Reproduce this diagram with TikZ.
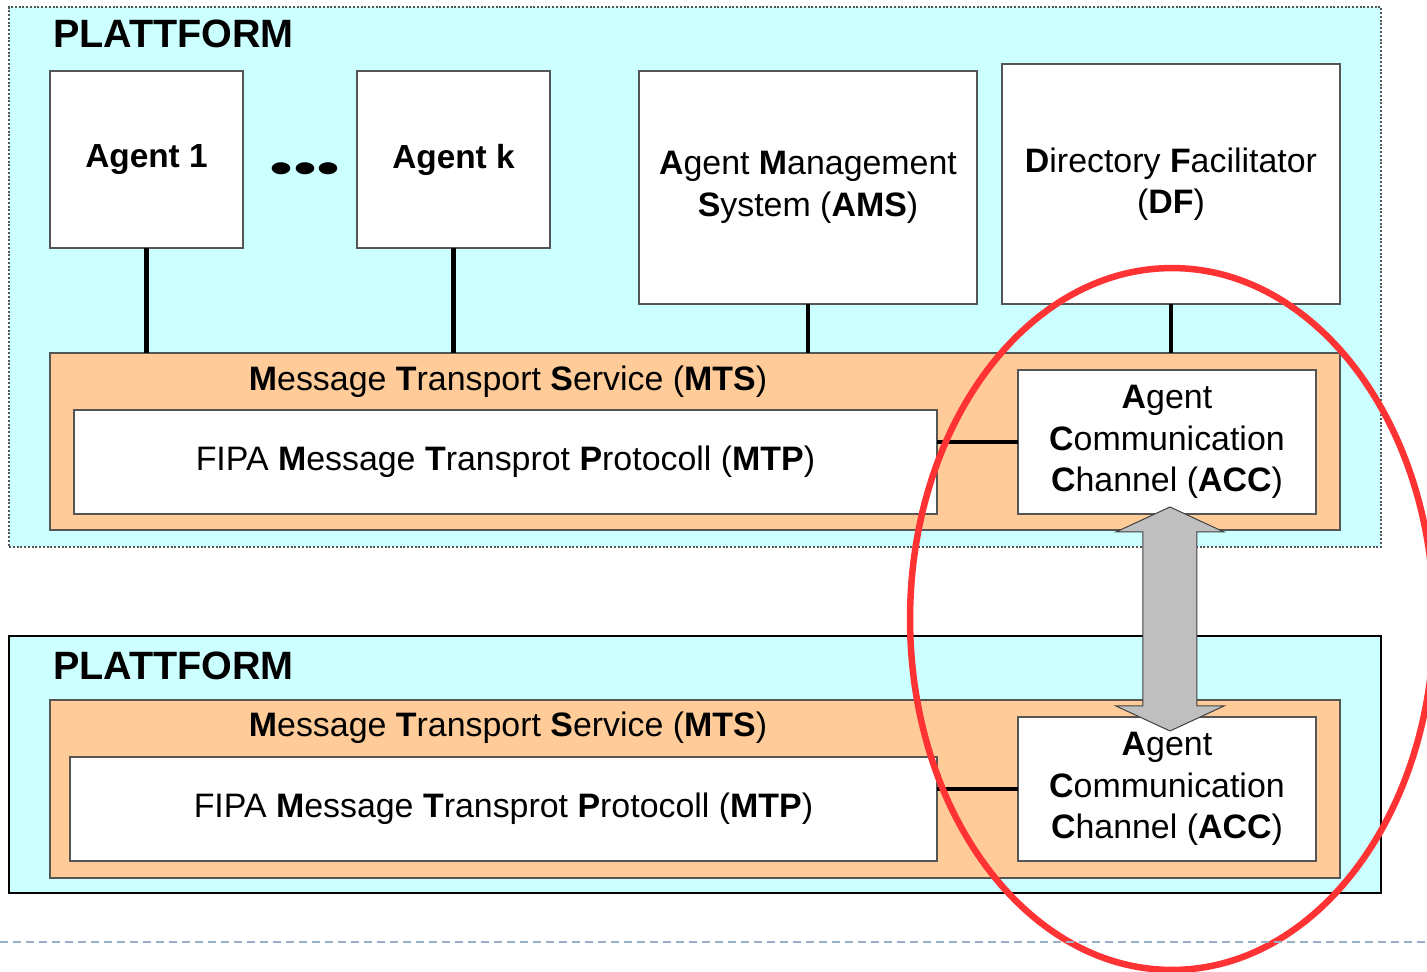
\documentclass[tikz,border=0pt]{standalone}
\usepackage{fontspec}
\setmainfont{Liberation Sans}
\usetikzlibrary{calc}
\definecolor{platcyan}{HTML}{CCFFFF}
\definecolor{mtsorange}{HTML}{FFCC99}
\definecolor{boxline}{HTML}{555555}
\definecolor{ringred}{HTML}{FF3333}
\definecolor{sepblue}{HTML}{9AB0C8}
\begin{document}
\begin{tikzpicture}
    [x=0.02cm,y=-0.02cm,
     every node/.style={inner sep=0pt,outer sep=0pt,font=\fontsize{19.3}{23.5}\selectfont},
     platbox/.style={rectangle,fill=platcyan,anchor=north west,line width=0.04cm},
     mtsbox/.style={rectangle,fill=mtsorange,draw=boxline,anchor=north west,line width=0.04cm},
     whitebox/.style={rectangle,fill=white,draw=boxline,anchor=north west,line width=0.04cm,align=center},
     platlabel/.style={anchor=base west,font=\fontsize{22.5}{27}\selectfont\bfseries},
     link/.style={line width=0.09cm,black},
     dblarrow/.style={fill=black!25,draw=black!75,line width=0.02cm},
     ring/.style={draw=ringred,line width=0.13cm}]
    \useasboundingbox (0,0) rectangle (1427,972);
    % upper platform
    \node [platbox,draw=boxline,densely dotted,minimum width=27.44cm,minimum height=10.8cm] (plat1) at (9,7) {};
    \node [platlabel] (plat1lbl) at (53,48) {PLATTFORM};
    \node [whitebox,minimum width=3.86cm,minimum height=3.54cm,font=\fontsize{19}{23}\selectfont\bfseries] (ag1) at (50,71) {Agent 1};
    \node [whitebox,minimum width=3.86cm,minimum height=3.54cm,font=\fontsize{19}{23}\selectfont\bfseries] (agk) at (357,71) {Agent k};
    \node [font=\fontsize{39}{39}\selectfont,yscale=0.65] (dots) at (305,173) {•••};
    \node [whitebox,minimum width=6.76cm,minimum height=4.66cm] (ams) at (639,71)
        {\textbf{A}gent \textbf{M}anagement\\\textbf{S}ystem (\textbf{AMS})};
    \node [whitebox,minimum width=6.76cm,minimum height=4.8cm] (df) at (1002,64)
        {\textbf{D}irectory \textbf{F}acilitator\\(\textbf{DF})};
    \node [mtsbox,minimum width=25.8cm,minimum height=3.54cm] (mts1) at (50,353) {};
    \node [anchor=base] (mts1lbl) at (508,391)
        {\textbf{M}essage \textbf{T}ransport \textbf{S}ervice (\textbf{MTS})};
    \node [whitebox,minimum width=17.26cm,minimum height=2.08cm] (mtp1) at (74,410)
        {FIPA \textbf{M}essage \textbf{T}ransprot \textbf{P}rotocoll (\textbf{MTP})};
    \node [whitebox,minimum width=5.96cm,minimum height=2.88cm] (acc1) at (1018,370)
        {\textbf{A}gent\\\textbf{C}ommunication\\\textbf{C}hannel (\textbf{ACC})};
    \draw [link] (ag1.south)--(ag1.south|-mts1.north);
    \draw [link] (agk.south)--(agk.south|-mts1.north);
    \draw [link] (ams.south)--(ams.south|-mts1.north);
    \draw [link] (df.south)--(df.south|-mts1.north);
    \draw [link] (acc1.west)--(acc1.west-|mtp1.east);
    % lower platform
    \node [platbox,draw=black,minimum width=27.44cm,minimum height=5.14cm] (plat2) at (9,636) {};
    \node [platlabel] (plat2lbl) at (53,680) {PLATTFORM};
    \node [mtsbox,minimum width=25.8cm,minimum height=3.56cm] (mts2) at (50,700) {};
    \node [anchor=base] (mts2lbl) at (508,737)
        {\textbf{M}essage \textbf{T}ransport \textbf{S}ervice (\textbf{MTS})};
    \node [whitebox,minimum width=17.34cm,minimum height=2.08cm] (mtp2) at (70,757)
        {FIPA \textbf{M}essage \textbf{T}ransprot \textbf{P}rotocoll (\textbf{MTP})};
    \node [whitebox,minimum width=5.96cm,minimum height=2.88cm] (acc2) at (1018,717)
        {\textbf{A}gent\\\textbf{C}ommunication\\\textbf{C}hannel (\textbf{ACC})};
    \draw [link] (acc2.west)--(acc2.west-|mtp2.east);
    % link between the two channels
    \coordinate (tipA) at ($(acc1.south)+(3,-7)$);
    \coordinate (tipB) at ($(acc2.north)+(3,14)$);
    \draw [dblarrow] (tipA)--($(tipA)+(54,25)$)--($(tipA)+(27,25)$)--($(tipB)+(27,-25)$)
        --($(tipB)+(54,-25)$)--(tipB)--($(tipB)+(-54,-25)$)--($(tipB)+(-27,-25)$)
        --($(tipA)+(-27,25)$)--($(tipA)+(-54,25)$)--cycle;
    \draw [ring] (1172,619) ellipse [x radius=5.24cm,y radius=7.02cm];
    \draw [sepblue,line width=0.04cm,dash pattern=on 0.16cm off 0.1cm] (0,942)--(1427,942);
  \end{tikzpicture}
\end{document}
